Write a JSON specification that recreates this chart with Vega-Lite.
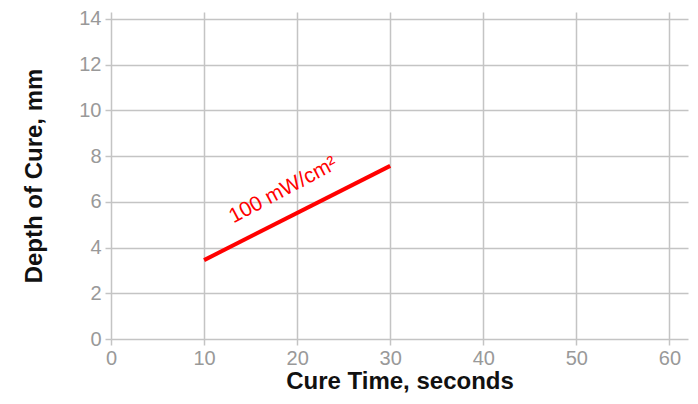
{
  "$schema": "https://vega.github.io/schema/vega-lite/v6.json",
  "width": 577,
  "height": 327,
  "autosize": {"type": "none"},
  "padding": {"left": 111, "top": 12, "right": 10, "bottom": 65},
  "background": "white",
  "config": {
    "view": {"stroke": null},
    "font": "Liberation Sans",
    "axis": {
      "domain": false,
      "grid": true,
      "gridColor": "#c4c4c4",
      "gridWidth": 1.5,
      "tickColor": "#c4c4c4",
      "tickWidth": 1.5,
      "tickSize": 6,
      "labelFlush": false,
      "labelColor": "#999999",
      "labelFont": "Liberation Sans",
      "labelFontSize": 20,
      "titleFont": "Liberation Sans",
      "titleFontSize": 24,
      "titleFontWeight": "bold",
      "titleColor": "#111111"
    }
  },
  "data": {
    "values": [
      {"time": 10, "depth": 3.45, "label": "100 mW/cm²"},
      {"time": 30, "depth": 7.57, "label": "100 mW/cm²"}
    ]
  },
  "layer": [
    {
      "mark": {"type": "line", "color": "#ff0000", "strokeWidth": 4},
      "encoding": {
        "x": {
          "field": "time",
          "type": "quantitative",
          "scale": {"domain": [0, 62], "nice": false},
          "axis": {"values": [0, 10, 20, 30, 40, 50, 60], "title": "Cure Time, seconds", "labelPadding": 3, "titlePadding": 1}
        },
        "y": {
          "field": "depth",
          "type": "quantitative",
          "scale": {"domain": [0, 14.3], "nice": false},
          "axis": {"values": [0, 2, 4, 6, 8, 10, 12, 14], "title": "Depth of Cure, mm", "labelPadding": 4, "titlePadding": 32}
        }
      }
    },
    {
      "data": {"values": [{"time": 18.5, "depth": 6.5, "label": "100 mW/cm²"}]},
      "mark": {"type": "text", "color": "#ff0000", "fontSize": 21, "angle": -28, "align": "center", "baseline": "middle", "font": "Liberation Sans"},
      "encoding": {
        "x": {"field": "time", "type": "quantitative"},
        "y": {"field": "depth", "type": "quantitative"},
        "text": {"field": "label"}
      }
    }
  ]
}
